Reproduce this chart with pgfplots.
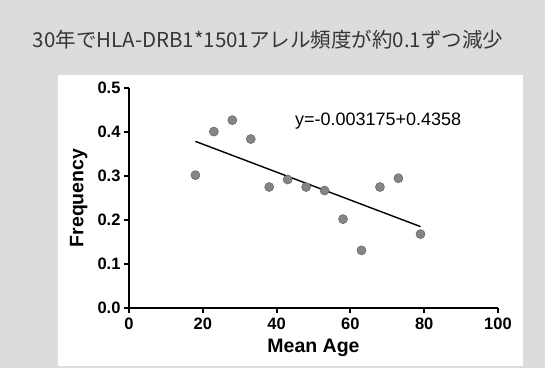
\documentclass[border=0pt]{standalone}
\usepackage{fontspec}
\setmainfont{Liberation Sans}
\newfontfamily\jp{Noto Sans CJK JP}
\usepackage{pgfplots}
\pgfplotsset{compat=1.18}
\definecolor{bgspeck}{HTML}{DCDCDC}
\definecolor{titlecol}{HTML}{363636}
\definecolor{dotfill}{HTML}{858585}
\definecolor{dotedge}{HTML}{6A6A6A}
\begin{document}
\begin{tikzpicture}
% background (pixel px,py -> (px-129, 308-py) pt)
\fill[bgspeck] (-129pt,-60pt) rectangle (416pt,308pt);
\fill[white] (-71pt,-58pt) rectangle (394pt,233pt);
\node[font=\jp\fontsize{20.5}{24}\selectfont, text=titlecol] at (139pt,268pt) {30年でHLA-DRB1*1501アレル頻度が約0.1ずつ減少};
\begin{axis}[
  scale only axis,
  width=369pt, height=220pt,
  xmin=0, xmax=100, ymin=0, ymax=0.5,
  axis x line*=bottom, axis y line*=left,
  axis line style={line width=2.2pt, black},
  every tick/.style={line width=2pt, black},
  tick align=outside,
  major tick length=5pt,
  xtick={0,20,40,60,80,100},
  ytick={0,0.1,0.2,0.3,0.4,0.5},
  yticklabel style={/pgf/number format/.cd, fixed, fixed zerofill, precision=1},
  /pgf/number format/assume math mode=true,
  tick label style={font=\bfseries\fontsize{16.5}{19}\selectfont},
  xticklabel style={yshift=-1pt},
  xlabel={Mean Age}, ylabel={Frequency},
  every axis x label/.style={at={(axis description cs:0.5,-0.183)}, anchor=center, font=\bfseries\fontsize{19.5}{23}\selectfont},
  every axis y label/.style={at={(axis description cs:-0.136,0.5)}, rotate=90, anchor=center, font=\bfseries\fontsize{19.5}{23}\selectfont},
  clip=false,
]
\addplot[only marks, mark=*, mark size=4.5pt, mark options={fill=dotfill, draw=dotedge, line width=0.6pt}] coordinates {
 (18,0.302) (23,0.401) (28,0.427) (33,0.384) (38,0.275) (43,0.292)
 (48,0.275) (53,0.267) (58,0.202) (63,0.131) (68,0.275) (73,0.295) (79,0.168)
};
\addplot[black, line width=1.4pt] coordinates {(18,0.3787) (79,0.1850)};
\node[font=\fontsize{18}{21}\selectfont] at (axis cs:67.5,0.425) {y=-0.003175+0.4358};
\end{axis}
\pgfresetboundingbox
\useasboundingbox (-129pt,-60pt) rectangle (416pt,308pt);
\end{tikzpicture}
\end{document}
